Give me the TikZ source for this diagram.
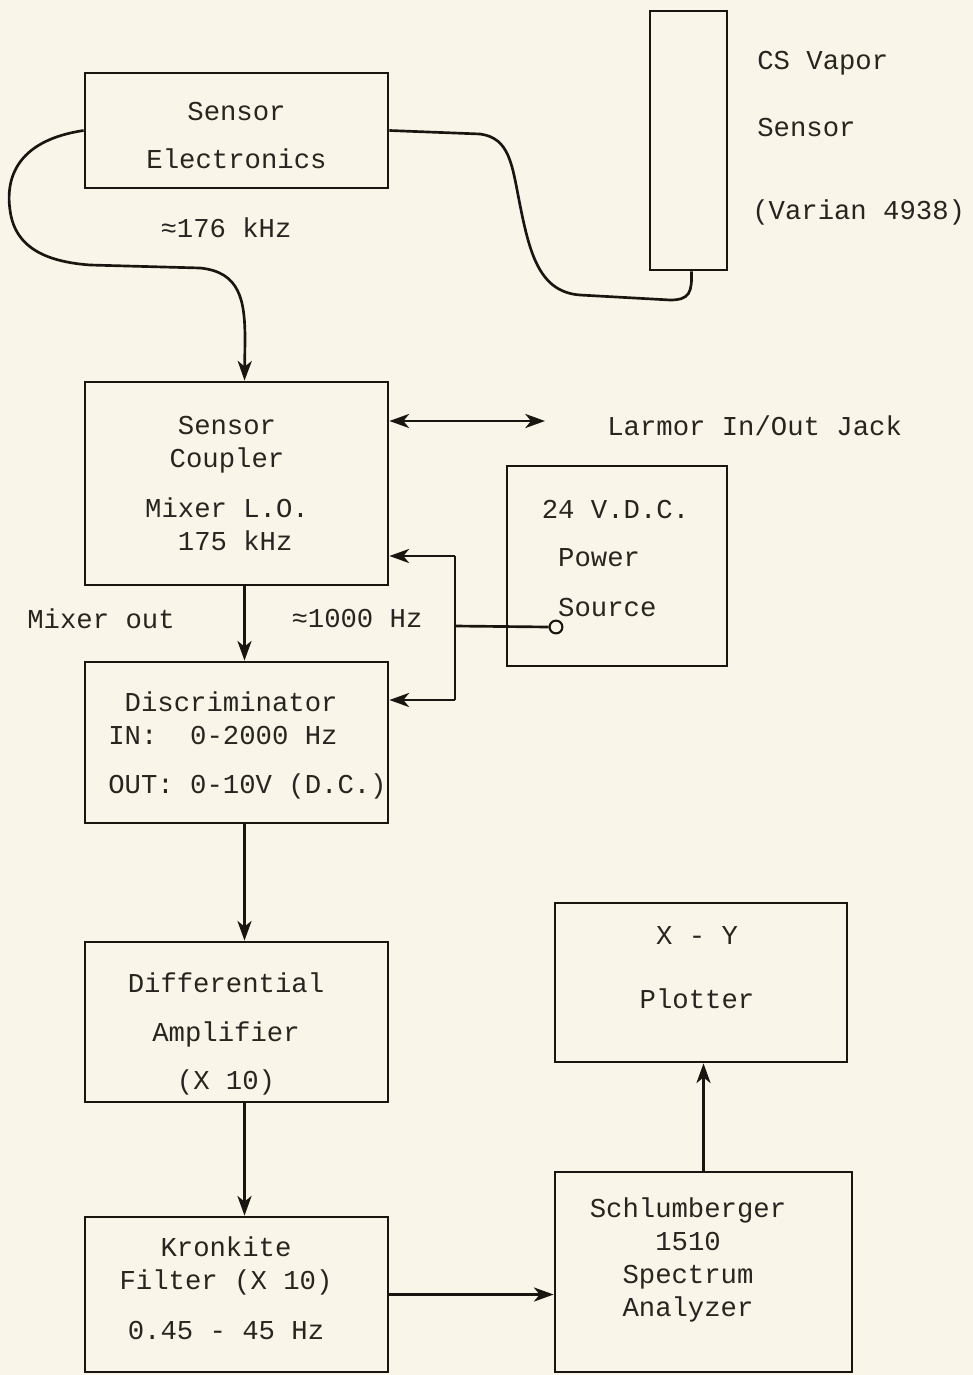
\documentclass[tikz,border=0pt]{standalone}
\usepackage{fontspec}
\setmainfont{Liberation Mono}
\usepackage{xcolor}
\definecolor{paper}{RGB}{249,246,233}
\definecolor{ink}{RGB}{25,22,18}
\definecolor{typeink}{RGB}{40,36,32}
\usepackage{tikz}
\usetikzlibrary{arrows.meta, calc}

\newcommand{\typefont}{\fontsize{19.4}{23.5}\selectfont}

\tikzset{
  block/.style={draw=ink, line width=1.9pt, inner sep=0pt},
  wire/.style={draw=ink, line width=1.9pt},
  arr/.style={wire, -{Stealth[length=14pt, width=10pt, inset=4pt]}},
  lbl/.style={text=typeink, font=\typefont, inner sep=0pt, align=center},
}

\begin{document}
\begin{tikzpicture}[x=0.025cm, y=-0.025cm]

% ===== PAPER =====
\fill[paper] (0,0) rectangle (973,1375);
\useasboundingbox (0,0) rectangle (973,1375);

% ===== SENSOR HEAD (Top) =====
\node[block, minimum width=7.575cm, minimum height=2.875cm] (elec) at (236.5,130.5) {};
\node[lbl] (elecl) at (236.5,135.5) {Sensor\\[11pt]Electronics};

\node[block, minimum width=1.925cm, minimum height=6.475cm] (vapor) at (688.5,140.5) {};
\node[lbl, anchor=west] (vaporA) at (757,63) {CS Vapor};
\node[lbl, anchor=west] (vaporB) at (757,128) {Sensor};
\node[lbl, anchor=west] (vaporC) at (752,212) {(Varian 4938)};

\node[lbl] (fsig) at (226,228) {≈176 kHz};

% ===== COUPLER AND POWER =====
\node[block, minimum width=7.575cm, minimum height=5.075cm] (coupler) at (236.5,483.5) {};
\node[lbl] (couplerl) at (227,483.5) {Sensor\\Coupler\\[12pt]Mixer L.O.\\\phantom{M}175 kHz};

\node[block, minimum width=5.5cm, minimum height=5cm] (power) at (617,566) {};
\node[lbl, align=left] (powerl) at (615.5,558.5)
      {24 V.D.C.\\[11pt]\phantom{2}Power\\[12pt]\phantom{2}Source};
\node[draw=ink, line width=1.5pt, circle, inner sep=0pt, minimum size=0.32cm]
      (pin) at (556,627) {};

\coordinate (jack) at (545,421);
\node[lbl, anchor=west] (jackl) at (607,426) {Larmor In/Out Jack};

\node[lbl] (mixout) at (101,619) {Mixer out};
\node[lbl] (fmix) at (357,619) {≈1000 Hz};

% ===== SIGNAL CHAIN =====
\node[block, minimum width=7.575cm, minimum height=4.025cm] (disc) at (236.5,742.5) {};
\node[lbl, align=left] (discl) at (247.5,745.5)
      {\phantom{O}Discriminator\\IN:\ \ 0-2000 Hz\\[11pt]OUT: 0-10V (D.C.)};

\node[block, minimum width=7.575cm, minimum height=4cm] (amp) at (236.5,1022) {};
\node[lbl] (ampl) at (226,1034) {Differential\\[11pt]Amplifier\\[11pt](X 10)};

\node[block, minimum width=7.575cm, minimum height=3.875cm] (filt) at (236.5,1294.5) {};
\node[lbl] (filtl) at (226,1288.5) {Kronkite\\Filter (X 10)\\[12pt]0.45 - 45 Hz};

% Analyzer and plotter
\node[block, minimum width=7.425cm, minimum height=5cm] (spec) at (703.5,1272) {};
\node[lbl] (specl) at (688,1259.5) {Schlumberger\\1510\\Spectrum\\Analyzer};

\node[block, minimum width=7.3cm, minimum height=3.975cm] (plot) at (701,982.5) {};
\node[lbl] (plotl) at (697,967.5) {X - Y\\[22pt]Plotter};

% ===== CONNECTIONS =====
% Cable to the vapor cell
\draw[wire] (elec.east) -- (480,134)
      .. controls (510,138) and (512,165) .. (520,205)
      .. controls (530,255) and (540,292) .. (580,295)
      -- (670,300) .. controls (690,300) and (692,292) .. ($(vapor.south)+(3,0)$);

% Signal down to the coupler
\draw[arr] (elec.west) .. controls (20,140) and (5,175) .. (10,210)
      .. controls (15,250) and (50,262) .. (90,265) -- (200,268)
      .. controls (240,272) and (245,300) .. (245,340) -- ($(coupler.north)+(8,0)$);

% Larmor jack
\draw[wire, {Stealth[length=14pt, width=10pt, inset=4pt]}-{Stealth[length=14pt, width=10pt, inset=4pt]}]
      (coupler.east |- jack) -- (jack);

% Supply lines
\coordinate (jtop) at (455,556);
\coordinate (jmid) at (455,626);
\coordinate (jbot) at (455,700);
\draw[wire] (pin.west) -- (jmid);
\draw[wire] (jtop) -- (jbot);
\draw[arr] (jtop) -- (coupler.east |- jtop);
\draw[arr] (jbot) -- (disc.east |- jbot);

% Signal chain
\draw[arr] ($(coupler.south)+(8,0)$) -- ($(disc.north)+(8,0)$);
\draw[arr] ($(disc.south)+(8,0)$) -- ($(amp.north)+(8,0)$);
\draw[arr] ($(amp.south)+(8,0)$) -- ($(filt.north)+(8,0)$);
\draw[arr] (filt.east) -- (spec.west |- filt.east);
\draw[arr] (spec.north) -- (spec.north |- plot.south);

\end{tikzpicture}
\end{document}
